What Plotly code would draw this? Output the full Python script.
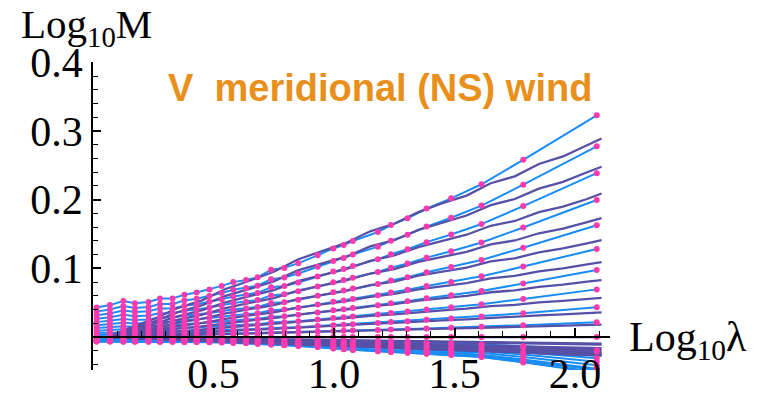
import plotly.graph_objects as go

# ---------------- data ----------------
# x positions of the empirical points (log10 lambda)
log_lambda = [0.015, 0.07, 0.126, 0.174, 0.23, 0.278, 0.33, 0.379, 0.43, 0.483,
              0.534, 0.582, 0.635, 0.683, 0.739, 0.794, 0.852, 0.932, 0.997, 1.04,
              1.078, 1.182, 1.236, 1.305, 1.384, 1.486, 1.612, 1.785, 2.09]

# empirical log10 M for each moment order q (blue lines with pink dots)
data_q20 = [0.043, 0.0465, 0.0524, 0.0492, 0.051, 0.0561, 0.0561, 0.0617, 0.0648, 0.0694,
            0.0745, 0.080, 0.083, 0.087, 0.098, 0.1007, 0.1076, 0.119, 0.129, 0.134,
            0.1397, 0.153, 0.163, 0.173, 0.187, 0.202, 0.2225, 0.258, 0.3228]
data_q19 = [0.037, 0.040, 0.045, 0.0423, 0.0439, 0.0482, 0.0482, 0.0531, 0.0557, 0.0597,
            0.0641, 0.0688, 0.0714, 0.0748, 0.0843, 0.0866, 0.0925, 0.1023, 0.1109, 0.1152,
            0.1201, 0.1316, 0.1402, 0.1488, 0.1608, 0.1737, 0.1914, 0.2219, 0.2777]
data_q18 = [0.0318, 0.0344, 0.0387, 0.0364, 0.0377, 0.0415, 0.0415, 0.0456, 0.0479, 0.0513,
            0.0551, 0.0591, 0.0614, 0.0643, 0.0724, 0.0744, 0.0795, 0.088, 0.0954, 0.0991,
            0.1033, 0.1131, 0.1205, 0.1279, 0.1382, 0.1493, 0.1645, 0.1907, 0.2386]
data_q17 = [0.0266, 0.0288, 0.0324, 0.0304, 0.0315, 0.0347, 0.0347, 0.0381, 0.0401, 0.0429,
            0.0461, 0.0495, 0.0513, 0.0538, 0.0606, 0.0623, 0.0665, 0.0736, 0.0798, 0.0829,
            0.0864, 0.0946, 0.1008, 0.107, 0.1156, 0.1249, 0.1376, 0.1595, 0.1996]
data_q16 = [0.0217, 0.0235, 0.0264, 0.0248, 0.0257, 0.0283, 0.0283, 0.0311, 0.0327, 0.035,
            0.0376, 0.0403, 0.0419, 0.0439, 0.0494, 0.0508, 0.0543, 0.060, 0.0651, 0.0676,
            0.0705, 0.0772, 0.0822, 0.0872, 0.0943, 0.1019, 0.1122, 0.1301, 0.1628]
data_q15 = [0.0171, 0.0185, 0.0208, 0.0196, 0.0203, 0.0223, 0.0223, 0.0245, 0.0258, 0.0276,
            0.0296, 0.0318, 0.033, 0.0346, 0.039, 0.040, 0.0428, 0.0473, 0.0513, 0.0533,
            0.0555, 0.0608, 0.0648, 0.0688, 0.0743, 0.0803, 0.0884, 0.1026, 0.1283]
data_q14 = [0.013, 0.014, 0.0158, 0.0149, 0.0154, 0.0169, 0.0169, 0.0186, 0.0196, 0.021,
            0.0225, 0.0242, 0.0251, 0.0263, 0.0296, 0.0304, 0.0325, 0.0359, 0.039, 0.0405,
            0.0422, 0.0462, 0.0492, 0.0522, 0.0565, 0.061, 0.0672, 0.0779, 0.0975]
data_q13 = [0.0092, 0.010, 0.0113, 0.0106, 0.011, 0.0121, 0.0121, 0.0133, 0.0139, 0.0149,
            0.016, 0.0172, 0.0178, 0.0187, 0.0211, 0.0217, 0.0231, 0.0256, 0.0277, 0.0288,
            0.030, 0.0329, 0.035, 0.0372, 0.0402, 0.0434, 0.0478, 0.0555, 0.0694]
data_q12 = [0.0058, 0.0062, 0.007, 0.0066, 0.0068, 0.0075, 0.0075, 0.0083, 0.0087, 0.0093,
            0.010, 0.0107, 0.0111, 0.0116, 0.0131, 0.0135, 0.0144, 0.0159, 0.0173, 0.0179,
            0.0187, 0.0205, 0.0218, 0.0231, 0.025, 0.027, 0.0298, 0.0345, 0.0432]
data_q11 = [0.0029, 0.0031, 0.0035, 0.0033, 0.0034, 0.0038, 0.0038, 0.0041, 0.0044, 0.0047,
            0.005, 0.0054, 0.0056, 0.0058, 0.0066, 0.0068, 0.0072, 0.008, 0.0087, 0.009,
            0.0094, 0.0103, 0.011, 0.0116, 0.0126, 0.0136, 0.015, 0.0173, 0.0217]
data_q10 = [0.0, 0.0, 0.0, 0.0, 0.0, 0.0, 0.0, 0.0, 0.0, 0.0,
            0.0, 0.0, 0.0, 0.0, 0.0, 0.0, 0.0, 0.0, 0.0, 0.0,
            0.0, 0.0, 0.0, 0.0, 0.0, 0.0, 0.0, 0.0, 0.0]
data_q09 = [-0.0024, -0.0024, -0.0025, -0.0025, -0.0025, -0.0026, -0.0026, -0.0027, -0.0027, -0.0028,
            -0.0029, -0.003, -0.0032, -0.0036, -0.004, -0.0044, -0.0048, -0.0053, -0.0061, -0.0065,
            -0.0068, -0.0076, -0.008, -0.0084, -0.0089, -0.0095, -0.0106, -0.0135, -0.019]
data_q08 = [-0.0039, -0.0039, -0.004, -0.004, -0.004, -0.0042, -0.0042, -0.0043, -0.0043, -0.0045,
            -0.0047, -0.005, -0.0053, -0.0059, -0.0065, -0.0071, -0.0078, -0.0087, -0.0099, -0.0105,
            -0.0112, -0.0124, -0.013, -0.0136, -0.0146, -0.0155, -0.0174, -0.022, -0.031]
data_q07 = [-0.0051, -0.0051, -0.0053, -0.0053, -0.0053, -0.0055, -0.0055, -0.0057, -0.0057, -0.0059,
            -0.0062, -0.0066, -0.007, -0.0078, -0.0086, -0.0094, -0.0103, -0.0115, -0.0131, -0.0139,
            -0.0148, -0.0164, -0.0172, -0.018, -0.0193, -0.0205, -0.023, -0.0291, -0.041]
data_q06 = [-0.006, -0.006, -0.0062, -0.0062, -0.0062, -0.0065, -0.0065, -0.0067, -0.0067, -0.007,
            -0.0072, -0.0077, -0.0082, -0.0091, -0.0101, -0.011, -0.012, -0.0134, -0.0154, -0.0163,
            -0.0173, -0.0192, -0.0202, -0.0211, -0.0226, -0.024, -0.0269, -0.0341, -0.048]
data_q05 = [-0.0065, -0.0065, -0.0068, -0.0068, -0.0068, -0.007, -0.007, -0.0073, -0.0073, -0.0075,
            -0.0078, -0.0083, -0.0088, -0.0099, -0.0109, -0.012, -0.013, -0.0146, -0.0166, -0.0177,
            -0.0187, -0.0208, -0.0218, -0.0229, -0.0244, -0.026, -0.0291, -0.0369, -0.052]
data_q04 = [-0.0064, -0.0064, -0.0066, -0.0066, -0.0066, -0.0069, -0.0069, -0.0071, -0.0071, -0.0074,
            -0.0077, -0.0082, -0.0087, -0.0097, -0.0107, -0.0117, -0.0128, -0.0143, -0.0163, -0.0173,
            -0.0184, -0.0204, -0.0214, -0.0224, -0.024, -0.0255, -0.0286, -0.0362, -0.051]
data_q03 = [-0.0058, -0.0058, -0.006, -0.006, -0.006, -0.0062, -0.0062, -0.0064, -0.0064, -0.0067,
            -0.0069, -0.0074, -0.0078, -0.0087, -0.0097, -0.0106, -0.0115, -0.0129, -0.0147, -0.0156,
            -0.0166, -0.0184, -0.0193, -0.0202, -0.0216, -0.023, -0.0258, -0.0327, -0.046]
data_q02 = [-0.0045, -0.0045, -0.0047, -0.0047, -0.0047, -0.0049, -0.0049, -0.005, -0.005, -0.0052,
            -0.0054, -0.0058, -0.0061, -0.0068, -0.0076, -0.0083, -0.009, -0.0101, -0.0115, -0.0122,
            -0.013, -0.0144, -0.0151, -0.0158, -0.0169, -0.018, -0.0202, -0.0256, -0.036]
data_q01 = [-0.0026, -0.0026, -0.0027, -0.0027, -0.0027, -0.0028, -0.0028, -0.0029, -0.0029, -0.003,
            -0.0032, -0.0034, -0.0036, -0.004, -0.0044, -0.0048, -0.0053, -0.0059, -0.0067, -0.0071,
            -0.0076, -0.0084, -0.0088, -0.0092, -0.0099, -0.0105, -0.0118, -0.0149, -0.021]

# x positions of the model curves (purple)
log_lambda_model = [0.06, 0.15, 0.25, 0.35, 0.45, 0.55, 0.65, 0.75, 0.85, 0.95, 1.05,
                    1.15, 1.25, 1.35, 1.45, 1.55, 1.65, 1.75, 1.85, 1.95, 2.05, 2.11]

model_q20 = [0, 0.013, 0.026, 0.042, 0.053, 0.070, 0.082, 0.095, 0.113, 0.125, 0.137,
             0.154, 0.165, 0.182, 0.195, 0.206, 0.224, 0.234, 0.252, 0.263, 0.279, 0.289]
model_q19 = [0, 0.011, 0.022, 0.036, 0.046, 0.060, 0.070, 0.081, 0.097, 0.107, 0.117,
             0.132, 0.141, 0.156, 0.167, 0.177, 0.192, 0.201, 0.216, 0.226, 0.240, 0.248]
model_q18 = [0, 0.0095, 0.0186, 0.030, 0.0387, 0.0505, 0.0596, 0.0683, 0.0814, 0.0899, 0.099,
             0.111, 0.119, 0.131, 0.140, 0.149, 0.162, 0.169, 0.182, 0.190, 0.201, 0.209]
model_q17 = [0, 0.008, 0.0155, 0.0251, 0.0322, 0.042, 0.0496, 0.0568, 0.0677, 0.0756, 0.0824,
             0.0925, 0.099, 0.1095, 0.1168, 0.124, 0.135, 0.1406, 0.1511, 0.158, 0.1672, 0.173]
model_q16 = [0, 0.0065, 0.0126, 0.0205, 0.0263, 0.0343, 0.0405, 0.0464, 0.0553, 0.0617, 0.0672,
             0.0755, 0.0808, 0.0894, 0.0954, 0.1012, 0.1102, 0.1147, 0.1234, 0.129, 0.1365, 0.141]
model_q15 = [0, 0.005, 0.0098, 0.0159, 0.0203, 0.0266, 0.0314, 0.036, 0.0428, 0.0478, 0.0522,
             0.0586, 0.0627, 0.0693, 0.0739, 0.0785, 0.0854, 0.089, 0.0957, 0.100, 0.1059, 0.109]
model_q14 = [0, 0.0039, 0.0075, 0.0122, 0.0155, 0.0203, 0.024, 0.0274, 0.0327, 0.0365, 0.0398,
             0.0447, 0.0478, 0.0529, 0.0564, 0.0599, 0.0652, 0.0679, 0.073, 0.0763, 0.0808, 0.083]
model_q13 = [0, 0.0026, 0.0051, 0.0083, 0.0107, 0.014, 0.0165, 0.0189, 0.0225, 0.0251, 0.0274,
             0.0308, 0.033, 0.0365, 0.0389, 0.0413, 0.0449, 0.0468, 0.0504, 0.0526, 0.0557, 0.057]
model_q12 = [0, 0.0017, 0.0032, 0.0052, 0.0067, 0.0088, 0.0103, 0.0119, 0.014, 0.0157, 0.0171,
             0.0193, 0.0206, 0.0228, 0.0243, 0.0258, 0.028, 0.0293, 0.0315, 0.0329, 0.0348, 0.036]
model_q11 = [0, 0.0009, 0.0016, 0.0026, 0.0033, 0.0044, 0.0051, 0.0059, 0.007, 0.0078, 0.0085,
             0.0096, 0.0103, 0.0113, 0.0121, 0.0129, 0.0139, 0.0146, 0.0157, 0.0163, 0.0173, 0.018]
model_q10 = [0, 0, 0, 0, 0, 0, 0, 0, 0, 0, 0, 0, 0, 0, 0, 0, 0, 0, 0, 0, 0, 0]
model_q09 = [0, -0.0004, -0.0009, -0.0014, -0.0018, -0.0023, -0.0027, -0.0031, -0.0037, -0.0041, -0.0045,
             -0.0051, -0.0054, -0.006, -0.0064, -0.0068, -0.0074, -0.0077, -0.0083, -0.0087, -0.0092, -0.0096]
model_q08 = [0, -0.0007, -0.0014, -0.0023, -0.003, -0.0039, -0.0046, -0.0053, -0.0063, -0.0069, -0.0076,
             -0.0086, -0.0092, -0.0103, -0.0108, -0.0115, -0.0125, -0.013, -0.0141, -0.0147, -0.0155, -0.0162]
model_q07 = [0, -0.001, -0.0019, -0.0031, -0.004, -0.0053, -0.0062, -0.0071, -0.0085, -0.0093, -0.0102,
             -0.0116, -0.0123, -0.0138, -0.0146, -0.0154, -0.0168, -0.0175, -0.0189, -0.0197, -0.0209, -0.0217]
model_q06 = [0, -0.0012, -0.0022, -0.0037, -0.0046, -0.0062, -0.0072, -0.0082, -0.0099, -0.0108, -0.0119,
             -0.0135, -0.0143, -0.016, -0.017, -0.018, -0.0196, -0.0204, -0.022, -0.0229, -0.0243, -0.0252]
model_q05 = [0, -0.0013, -0.0024, -0.004, -0.005, -0.0067, -0.0078, -0.0089, -0.0107, -0.0117, -0.0128,
             -0.0146, -0.0155, -0.0173, -0.0183, -0.0194, -0.0212, -0.022, -0.0238, -0.0247, -0.0262, -0.0272]
model_q04 = [0, -0.0013, -0.0023, -0.0039, -0.0049, -0.0066, -0.0076, -0.0087, -0.0105, -0.0115, -0.0125,
             -0.0143, -0.0152, -0.017, -0.018, -0.019, -0.0208, -0.0216, -0.0233, -0.0242, -0.0257, -0.0267]
model_q03 = [0, -0.0011, -0.0021, -0.0035, -0.0044, -0.0059, -0.0069, -0.0079, -0.0095, -0.0104, -0.0114,
             -0.013, -0.0138, -0.0154, -0.0163, -0.0172, -0.0188, -0.0196, -0.0211, -0.022, -0.0233, -0.0242]
model_q02 = [0, -0.0009, -0.0017, -0.0028, -0.0035, -0.0047, -0.0055, -0.0062, -0.0075, -0.0082, -0.009,
             -0.0102, -0.0109, -0.0122, -0.0129, -0.0136, -0.0149, -0.0155, -0.0167, -0.0174, -0.0184, -0.0192]
model_q01 = [0, -0.0005, -0.001, -0.0016, -0.002, -0.0027, -0.0032, -0.0036, -0.0043, -0.0048, -0.0052,
             -0.0059, -0.0063, -0.007, -0.0075, -0.0079, -0.0086, -0.009, -0.0097, -0.0101, -0.0107, -0.0111]

x_major_ticks = [0.5, 1.0, 1.5, 2.0]
x_major_labels = ["0.5", "1.0", "1.5", "2.0"]
y_major_ticks = [0.1, 0.2, 0.3, 0.4]
y_major_labels = ["0.1", "0.2", "0.3", "0.4"]
x_minor_ticks = [0.1, 0.2, 0.3, 0.4, 0.6, 0.7, 0.8, 0.9, 1.1, 1.2, 1.3, 1.4,
                 1.6, 1.7, 1.8, 1.9, 2.1]
y_minor_ticks = [-0.04, -0.02, 0.0, 0.02, 0.04, 0.06, 0.08, 0.12, 0.14, 0.16, 0.18,
                 0.22, 0.24, 0.26, 0.28, 0.32, 0.34, 0.36, 0.38]

title_text = "V  meridional (NS) wind"

# ---------------- figure ----------------
data_series = [data_q01, data_q02, data_q03, data_q04, data_q05, data_q06, data_q07,
               data_q08, data_q09, data_q10, data_q11, data_q12, data_q13, data_q14,
               data_q15, data_q16, data_q17, data_q18, data_q19, data_q20]
model_series = [model_q01, model_q02, model_q03, model_q04, model_q05, model_q06, model_q07,
                model_q08, model_q09, model_q10, model_q11, model_q12, model_q13, model_q14,
                model_q15, model_q16, model_q17, model_q18, model_q19, model_q20]

BLUE = "#1a8cf5"
PURPLE = "#5650a6"
PINK = "#fb3ab0"
ORANGE = "#e9901c"
SERIF = "Liberation Serif"

fig = go.Figure()
for ys in data_series:
    fig.add_trace(go.Scatter(x=log_lambda, y=ys, mode="lines",
                             line=dict(color=BLUE, width=2), hoverinfo="skip"))
for ys in model_series:
    fig.add_trace(go.Scatter(x=log_lambda_model, y=ys, mode="lines",
                             line=dict(color=PURPLE, width=2.3), hoverinfo="skip"))
for ys in data_series:
    fig.add_trace(go.Scatter(x=log_lambda, y=ys, mode="markers",
                             marker=dict(color=PINK, size=6), hoverinfo="skip"))

X_RANGE = [0, 2.145]
Y_RANGE = [-0.048, 0.4005]
x_axis_pos = (0 - Y_RANGE[0]) / (Y_RANGE[1] - Y_RANGE[0])

fig.update_layout(
    width=766, height=409,
    margin=dict(l=93, r=156, t=62, b=22),
    paper_bgcolor="white", plot_bgcolor="white",
    showlegend=False,
    xaxis=dict(range=X_RANGE, showgrid=False, zeroline=False,
               showline=True, linecolor="black", linewidth=2,
               anchor="free", position=x_axis_pos,
               ticks="inside", ticklen=8, tickwidth=1.5, tickcolor="black",
               tickvals=x_major_ticks, ticktext=x_major_labels,
               tickfont=dict(family=SERIF, size=42, color="black"),
               minor=dict(tickvals=x_minor_ticks, ticks="inside", ticklen=5,
                          tickwidth=1, tickcolor="black")),
    yaxis=dict(range=Y_RANGE, showgrid=False, zeroline=False,
               showline=True, linecolor="black", linewidth=1.5,
               ticks="inside", ticklen=8, tickwidth=1.5, tickcolor="black",
               tickvals=y_major_ticks, ticktext=y_major_labels,
               tickfont=dict(family=SERIF, size=42, color="black"),
               minor=dict(tickvals=y_minor_ticks, ticks="inside", ticklen=5,
                          tickwidth=1, tickcolor="black")),
    annotations=[
        dict(text="<b>" + title_text + "</b>", xref="paper", yref="paper",
             x=0.555, y=0.917, xanchor="center", yanchor="middle", showarrow=False,
             font=dict(family="Liberation Sans", size=38, color=ORANGE)),
        dict(text="Log<sub>10</sub>M", xref="paper", yref="paper",
             x=-0.143, y=1.115, xanchor="left", yanchor="middle", showarrow=False,
             font=dict(family=SERIF, size=41, color="black")),
        dict(text="Log<sub>10</sub>λ", xref="paper", yref="paper",
             x=1.033, y=0.098, xanchor="left", yanchor="middle", showarrow=False,
             font=dict(family=SERIF, size=42, color="black")),
    ],
)

fig.write_html("out.html")
